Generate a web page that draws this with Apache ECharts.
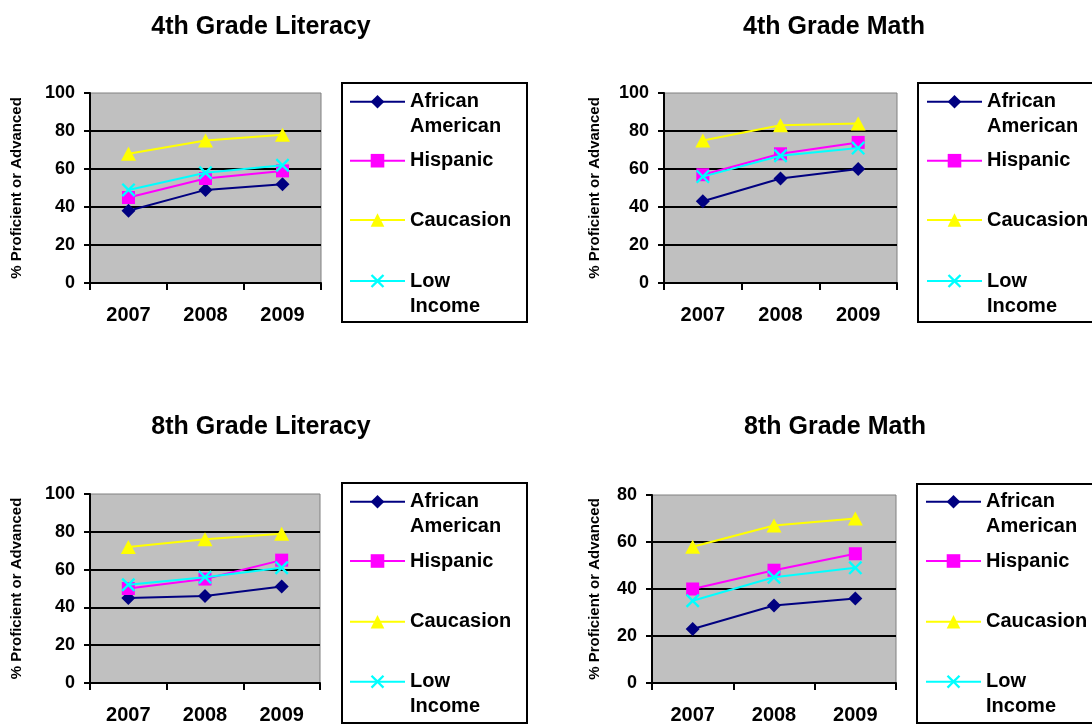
<!DOCTYPE html>
<html>
<head>
<meta charset="utf-8">
<script src="https://cdn.jsdelivr.net/npm/echarts@6/dist/echarts.min.js"></script>
<style>
  html, body { margin: 0; padding: 0; background: #fff; }
  #chart { width: 1092px; height: 725px; }
</style>
</head>
<body>
<div id="chart"></div>
<script>
// Test years shown on every x axis
const years = ['2007', '2008', '2009'];
// Student groups, in series / legend order
const groups = ['African American', 'Hispanic', 'Caucasion', 'Low Income'];
const titles = ['4th Grade Literacy', '4th Grade Math', '8th Grade Literacy', '8th Grade Math'];
const yAxisName = '% Proficient or Advanced';

// % proficient or advanced, one row per group (same order as `groups`)
const grade4Literacy = [
  [38, 49, 52],
  [45, 55, 59],
  [68, 75, 78],
  [49, 58, 62]
];
const grade4Math = [
  [43, 55, 60],
  [57, 68, 74],
  [75, 83, 84],
  [56, 67, 71]
];
const grade8Literacy = [
  [45, 46, 51],
  [50, 55, 65],
  [72, 76, 79],
  [52, 56, 61]
];
const grade8Math = [
  [23, 33, 36],
  [40, 48, 55],
  [58, 67, 70],
  [35, 45, 49]
];
const yMax = [100, 100, 100, 80];

const FONT = 'Liberation Sans, Arial, sans-serif';
const colors = ['#000080', '#ff00ff', '#ffff00', '#00ffff'];
const xMark = 'path://M0,1.2L1.2,0L5,3.8L8.8,0L10,1.2L6.2,5L10,8.8L8.8,10L5,6.2L1.2,10L0,8.8L3.8,5Z';
const symbols = ['diamond', 'rect', 'triangle', xMark];
const symbolSizes = [[14, 14], [13, 13], [15, 14], [14, 14]];

// Panel placement on the page
const panels = [
  { values: grade4Literacy, grid: { left: 90, top: 93, width: 231, height: 190 },
    titleX: 261, titleY: 15, nameGap: 66, box: [342, 83, 185, 239], legendX: 349, rowY: [101.7, 160.7, 220, 281] },
  { values: grade4Math, grid: { left: 664, top: 93, width: 233, height: 190 },
    titleX: 834, titleY: 15, nameGap: 62, box: [918, 83, 200, 239], legendX: 926, rowY: [101.7, 160.7, 220, 281] },
  { values: grade8Literacy, grid: { left: 90, top: 494, width: 230, height: 190 },
    titleX: 261, titleY: 415, nameGap: 66, box: [342, 483, 185, 240], legendX: 349, rowY: [501.7, 561, 621.7, 681.7] },
  { values: grade8Math, grid: { left: 652, top: 495, width: 244, height: 189 },
    titleX: 835, titleY: 415, nameGap: 50, box: [917, 484, 200, 239], legendX: 925, rowY: [501.7, 561, 621.7, 681.7] }
];

const option = {
  animation: false,
  backgroundColor: '#fff',
  title: [], grid: [], xAxis: [], yAxis: [], series: [], legend: [], graphic: []
};

panels.forEach((p, i) => {
  option.title.push({
    text: titles[i], left: p.titleX, top: p.titleY, textAlign: 'center', padding: 0,
    textStyle: { fontFamily: FONT, fontWeight: 'bold', fontSize: 25, color: '#000' }
  });
  option.grid.push(Object.assign({
    show: true, backgroundColor: '#c0c0c0', borderColor: '#808080', borderWidth: 1
  }, p.grid));
  option.xAxis.push({
    type: 'category', gridIndex: i, data: years, boundaryGap: true,
    axisLine: { lineStyle: { color: '#000', width: 2 } },
    axisTick: { show: true, length: 7, lineStyle: { color: '#000', width: 2 } },
    axisLabel: { fontFamily: FONT, fontWeight: 'bold', fontSize: 20, color: '#000', margin: 22 },
    splitLine: { show: false }
  });
  option.yAxis.push({
    type: 'value', gridIndex: i, min: 0, max: yMax[i], interval: 20,
    name: yAxisName, nameLocation: 'middle', nameGap: p.nameGap,
    nameTextStyle: { fontFamily: FONT, fontWeight: 'bold', fontSize: 15, color: '#000' },
    axisLine: { show: true, lineStyle: { color: '#000', width: 2 } },
    axisTick: { show: true, length: 6, lineStyle: { color: '#000', width: 2 } },
    axisLabel: { fontFamily: FONT, fontWeight: 'bold', fontSize: 18, color: '#000', margin: 15 },
    splitLine: { show: true, showMaxLine: false, lineStyle: { color: '#000', width: 2 } }
  });
  groups.forEach((g, k) => {
    option.series.push({
      type: 'line', name: g, xAxisIndex: i, yAxisIndex: i,
      data: p.values[k],
      symbol: symbols[k], symbolSize: symbolSizes[k],
      lineStyle: { color: colors[k], width: 2 },
      itemStyle: { color: colors[k], borderWidth: 0 },
      z: 2 + k
    });
    // Two-word names wrap onto a second line below the legend icon
    const twoLine = g.indexOf(' ') > 0;
    option.legend.push({
      data: [g], left: p.legendX, top: p.rowY[k] - (twoLine ? 37.5 : 12.5), padding: 0,
      orient: 'vertical', selectedMode: false,
      itemWidth: 55, itemHeight: 17,
      formatter: (name) => (twoLine ? ' \n' + name.replace(' ', '\n') : name),
      textStyle: { fontFamily: FONT, fontWeight: 'bold', fontSize: 20, color: '#000', lineHeight: 25 }
    });
  });
  option.graphic.push({
    type: 'rect', z: 1,
    shape: { x: p.box[0], y: p.box[1], width: p.box[2], height: p.box[3] },
    style: { fill: '#fff', stroke: '#000', lineWidth: 2 }
  });
});

const chart = echarts.init(document.getElementById('chart'), null, { renderer: 'canvas' });
chart.setOption(option);
</script>
</body>
</html>
